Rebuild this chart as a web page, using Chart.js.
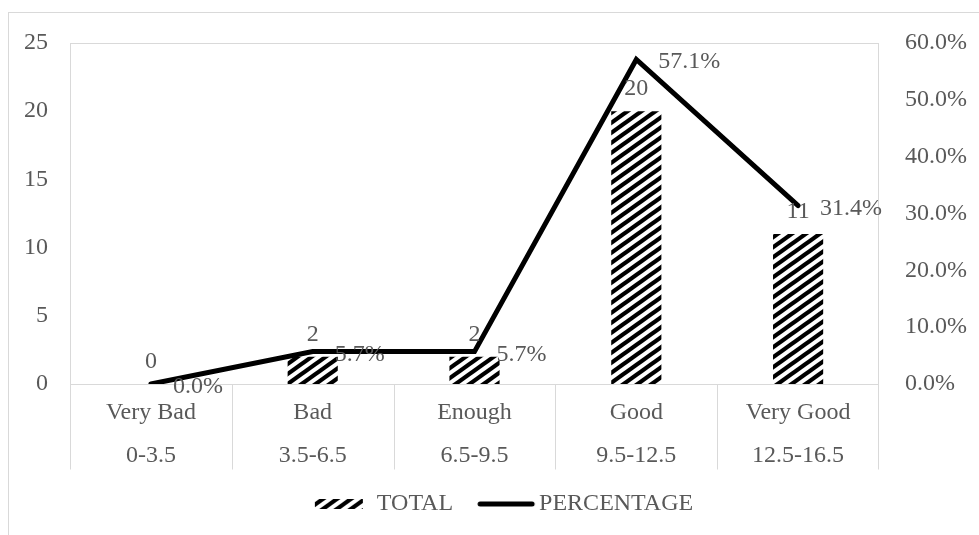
<!DOCTYPE html>
<html>
<head>
<meta charset="utf-8">
<script src="https://cdn.jsdelivr.net/npm/chart.js@4/dist/chart.umd.min.js"></script>
<style>
  html, body { margin: 0; padding: 0; background: #fff; overflow: hidden; }
  #cadre {
    position: absolute; left: 8px; top: 12px;
    width: 970px; height: 522px;
    border-left: 1px solid #d9d9d9; border-top: 1px solid #d9d9d9;
  }
</style>
</head>
<body>
<div id="cadre"><canvas id="graphique"></canvas></div>
<script>
// DONNEES DU GRAPHIQUE
const categories = ['Very Bad', 'Bad', 'Enough', 'Good', 'Very Good'];
const intervalles = ['0-3.5', '3.5-6.5', '6.5-9.5', '9.5-12.5', '12.5-16.5'];
const totaux = [0, 2, 2, 20, 11];
const pourcentages = [0.0, 5.7, 5.7, 57.1, 31.4];
const ticksGauche = { min: 0, max: 25, pas: 5 };
const ticksDroite = { min: 0, max: 60, pas: 10 };

const GRIS = '#595959';
const BORDURE = '#d9d9d9';
const POLICE = '"Liberation Serif", "Times New Roman", serif';
const TAILLE = 24;

Chart.defaults.font.family = POLICE;
Chart.defaults.font.size = TAILLE;
Chart.defaults.color = GRIS;

// MOTIF HACHURE (diagonales montantes)
function creerMotif() {
  const w = 14, h = 10;
  const c = document.createElement('canvas');
  c.width = w; c.height = h;
  const g = c.getContext('2d');
  g.strokeStyle = '#000';
  g.lineWidth = 4.2;
  for (let k = 0; k <= 2; k++) {
    g.beginPath();
    g.moveTo(-2, k * h + 2 * h / w);
    g.lineTo(w + 2, (k - 1) * h - 2 * h / w);
    g.stroke();
  }
  return c;
}
const tuile = creerMotif();
const motif = document.createElement('canvas').getContext('2d').createPattern(tuile, 'repeat');

// ICONES DE LA LEGENDE
function iconeHachure() {
  const c = document.createElement('canvas');
  c.width = 70; c.height = 10;
  const g = c.getContext('2d');
  g.fillStyle = g.createPattern(tuile, 'repeat');
  g.fillRect(20, 0, 48, 10);
  return c;
}
function iconeLigne() {
  const c = document.createElement('canvas');
  c.width = 90; c.height = 10;
  const g = c.getContext('2d');
  g.strokeStyle = '#000';
  g.lineWidth = 5;
  g.lineCap = 'round';
  g.beginPath();
  g.moveTo(33, 5);
  g.lineTo(85, 5);
  g.stroke();
  return c;
}

// CADRE DE LA ZONE DE TRACE + SEPARATEURS DES CATEGORIES
const cadre = {
  id: 'cadre',
  beforeDatasetsDraw(chart) {
    const { ctx, chartArea: a, scales: { x } } = chart;
    ctx.save();
    ctx.strokeStyle = BORDURE;
    ctx.lineWidth = 1;
    const L = Math.round(a.left) + 0.5, R = Math.round(a.right) - 0.5;
    const T = Math.round(a.top) + 0.5, B = Math.round(a.bottom) + 0.5;
    ctx.strokeRect(L, T, R - L, B - T);
    const demi = (x.getPixelForValue(1) - x.getPixelForValue(0)) / 2;
    ctx.beginPath();
    for (let i = 0; i <= categories.length; i++) {
      const px = i < categories.length
        ? Math.round(x.getPixelForValue(i) - demi) + 0.5
        : R;
      ctx.moveTo(px, B);
      ctx.lineTo(px, B + 85);
    }
    ctx.stroke();
    ctx.restore();
  }
};

// ETIQUETTES DES VALEURS
const etiquettes = {
  id: 'etiquettes',
  afterDatasetsDraw(chart) {
    const ctx = chart.ctx;
    ctx.save();
    ctx.font = TAILLE + 'px ' + POLICE;
    ctx.fillStyle = GRIS;
    ctx.textBaseline = 'alphabetic';
    chart.getDatasetMeta(0).data.forEach((barre, i) => {
      ctx.textAlign = 'center';
      ctx.fillText(String(totaux[i]), barre.x, barre.y - 16);
    });
    chart.getDatasetMeta(1).data.forEach((pt, i) => {
      ctx.textAlign = 'left';
      ctx.fillText(pourcentages[i].toFixed(1) + '%', pt.x + 22, pt.y + 9);
    });
    ctx.restore();
  }
};

new Chart(document.getElementById('graphique'), {
  type: 'bar',
  data: {
    labels: categories.map((c, i) => [c, intervalles[i]]),
    datasets: [{
      label: 'TOTAL',
      data: totaux,
      backgroundColor: motif,
      borderWidth: 0,
      barPercentage: 0.31,
      categoryPercentage: 1,
      yAxisID: 'y',
      order: 2
    }, {
      type: 'line',
      label: 'PERCENTAGE',
      data: pourcentages,
      borderColor: '#000',
      backgroundColor: '#000',
      borderWidth: 5,
      borderCapStyle: 'round',
      borderJoinStyle: 'miter',
      pointRadius: 0,
      tension: 0,
      yAxisID: 'y1',
      order: 1
    }]
  },
  options: {
    responsive: true,
    maintainAspectRatio: false,
    animation: false,
    layout: { padding: { top: 30, left: 0, right: 0, bottom: 9 } },
    plugins: {
      tooltip: { enabled: false },
      legend: {
        position: 'bottom',
        labels: {
          usePointStyle: true,
          pointStyleWidth: 70,
          boxHeight: 10,
          padding: 4,
          color: GRIS,
          font: { size: TAILLE },
          generateLabels: () => [
            { text: 'TOTAL', pointStyle: iconeHachure(), fillStyle: '#000', strokeStyle: '#000', lineWidth: 0, hidden: false, datasetIndex: 0, fontColor: GRIS },
            { text: 'PERCENTAGE', pointStyle: iconeLigne(), fillStyle: '#000', strokeStyle: '#000', lineWidth: 0, hidden: false, datasetIndex: 1, fontColor: GRIS }
          ]
        }
      }
    },
    scales: {
      x: {
        grid: { display: false, drawTicks: false },
        border: { display: false },
        ticks: {
          autoSkip: false,
          maxRotation: 0,
          padding: 7,
          color: GRIS,
          font: { size: TAILLE, lineHeight: 43 / TAILLE }
        },
        afterFit: (s) => { s.height = 104; }
      },
      y: {
        position: 'left',
        min: ticksGauche.min,
        max: ticksGauche.max,
        grid: { display: false, drawTicks: true, tickLength: 10 },
        border: { display: false },
        ticks: { stepSize: ticksGauche.pas, padding: 12, color: GRIS },
        afterFit: (s) => { s.width = 61; }
      },
      y1: {
        position: 'right',
        min: ticksDroite.min,
        max: ticksDroite.max,
        grid: { display: false, drawTicks: true, tickLength: 14 },
        border: { display: false },
        ticks: {
          stepSize: ticksDroite.pas,
          padding: 12,
          color: GRIS,
          callback: (v) => Number(v).toFixed(1) + '%'
        },
        afterFit: (s) => { s.width = 100; }
      }
    }
  },
  plugins: [cadre, etiquettes]
});
</script>
</body>
</html>
